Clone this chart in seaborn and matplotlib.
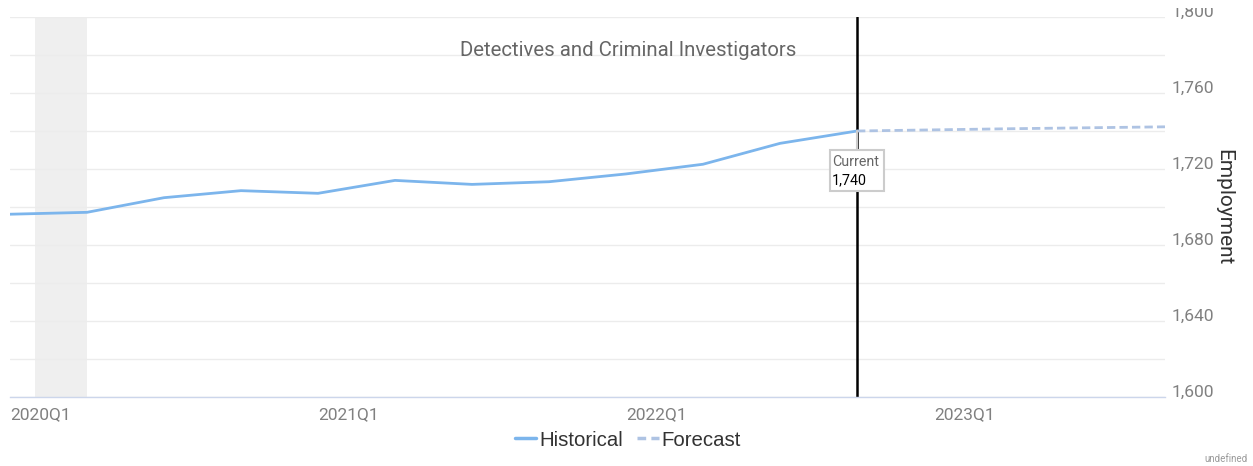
import pandas as pd
import matplotlib.pyplot as plt
import seaborn as sns
from matplotlib.ticker import MultipleLocator, FuncFormatter
from matplotlib.lines import Line2D
from matplotlib.patches import Rectangle
from matplotlib.transforms import IdentityTransform, Bbox

quarters = ["2020Q1", "2020Q2", "2020Q3", "2020Q4", "2021Q1", "2021Q2", "2021Q3", "2021Q4",
            "2022Q1", "2022Q2", "2022Q3", "2022Q4", "2023Q1", "2023Q2", "2023Q3", "2023Q4"]
hist_values = [1696.2, 1697.2, 1704.9, 1708.6, 1707.2, 1714.0, 1711.9, 1713.3,
               1717.4, 1722.5, 1733.5, 1740.0]
fcst_values = [1740.0, 1740.6, 1741.2, 1741.7, 1742.2]
year_ticks = ["2020Q1", "2021Q1", "2022Q1", "2023Q1"]
current_q = "2022Q4"
current_val = 1740
recession = (0.33, 1.0)

hist = pd.DataFrame({"q": range(len(hist_values)), "Employment": hist_values})
fcst = pd.DataFrame({"q": range(len(hist_values) - 1, len(hist_values) - 1 + len(fcst_values)),
                     "Employment": fcst_values})

sns.set_style("white")
plt.rcParams["font.family"] = ["Roboto", "DejaVu Sans"]

W, H = 1253, 466
fig = plt.figure(figsize=(W / 100, H / 100), dpi=100)
ax = fig.add_axes([10 / W, 1 - 397 / H, 1155 / W, 380 / H])

hist_c = "#7cb5ec"
fcst_c = "#aec3e3"
ax.axvspan(*recession, color="#efefef", lw=0, zorder=0)
sns.lineplot(data=hist, x="q", y="Employment", ax=ax, color=hist_c, lw=2, zorder=3)
sns.lineplot(data=fcst, x="q", y="Employment", ax=ax, color=fcst_c, lw=2, zorder=3,
             linestyle=(0, (3, 1.5)))

ci = quarters.index(current_q)
ax.axvline(ci, color="black", lw=1.8, zorder=2)

ax.set_xlim(0, len(quarters) - 1)
ax.set_ylim(1600, 1800)
ax.set_xticks([quarters.index(t) for t in year_ticks])
ax.set_xticklabels(year_ticks, ha="left", color="#808080", fontsize=12.5)
ax.tick_params(axis="x", length=5, color="#ccd6eb", pad=2)

ax.yaxis.tick_right()
ax.yaxis.set_major_locator(MultipleLocator(40))
ax.yaxis.set_minor_locator(MultipleLocator(20))
ax.yaxis.set_major_formatter(FuncFormatter(lambda v, p: f"{v:,.0f}"))
ax.tick_params(axis="y", which="both", length=0, pad=5, labelsize=12.5, labelcolor="#808080")
ax.grid(True, axis="y", which="both", color="#ececec", lw=1)
ax.set_xlabel("")
ax.set_ylabel("")
for s in ["top", "left", "right"]:
    ax.spines[s].set_visible(False)
ax.spines["bottom"].set_color("#ccd6eb")
ax.spines["bottom"].set_linewidth(1)

fig.canvas.draw()
for lab in ax.get_yticklabels():
    lab.set_verticalalignment("baseline")
    lab.set_clip_box(Bbox([[0, 0], [W, H - 8]]))
    lab.set_clip_on(True)

# current annotation: connector, box and two text lines, placed from the data point
px, py = ax.transData.transform((ci, current_val))
ax.add_line(Line2D([px, px], [py, py - 19], color="#cccccc", lw=1.5, transform=IdentityTransform(),
                   zorder=5, clip_on=False))
ax.add_patch(Rectangle((px - 27, py - 60), 54, 41, fc="white", ec="#cccccc", lw=1.5,
                       transform=IdentityTransform(), zorder=5, clip_on=False))
ax.annotate("Current", xy=(ci, current_val), xytext=(-25, -31), textcoords="offset pixels",
            ha="left", va="center", fontsize=10.3, color="#666666", zorder=6)
ax.annotate(f"{current_val:,}", xy=(ci, current_val), xytext=(-25, -49), textcoords="offset pixels",
            ha="left", va="center", fontsize=10.3, color="black", zorder=6)

fig.text(628 / W, 1 - 50 / H, "Detectives and Criminal Investigators", ha="center", va="center",
         fontsize=14.7, color="#666666")
fig.text(1224 / W, 1 - 207 / H, "Employment", rotation=270, ha="center", va="center",
         fontsize=15, color="#333333")
fig.text(1248 / W, 1 - 459 / H, "undefined", ha="right", va="center", fontsize=7, color="#999999")

handles = [Line2D([], [], color=hist_c, lw=2.5),
           Line2D([], [], color=fcst_c, lw=2.5, linestyle=(0, (2.5, 1.5)))]
fig.legend(handles, ["Historical", "Forecast"], loc="center", bbox_to_anchor=(628 / W, 1 - 440 / H),
           ncol=2, frameon=False, handlelength=1.05, handletextpad=0.15, columnspacing=0.7,
           prop={"family": "Liberation Sans", "size": 14.7}, labelcolor="#333333")

fig.savefig("out.png", dpi=100)
